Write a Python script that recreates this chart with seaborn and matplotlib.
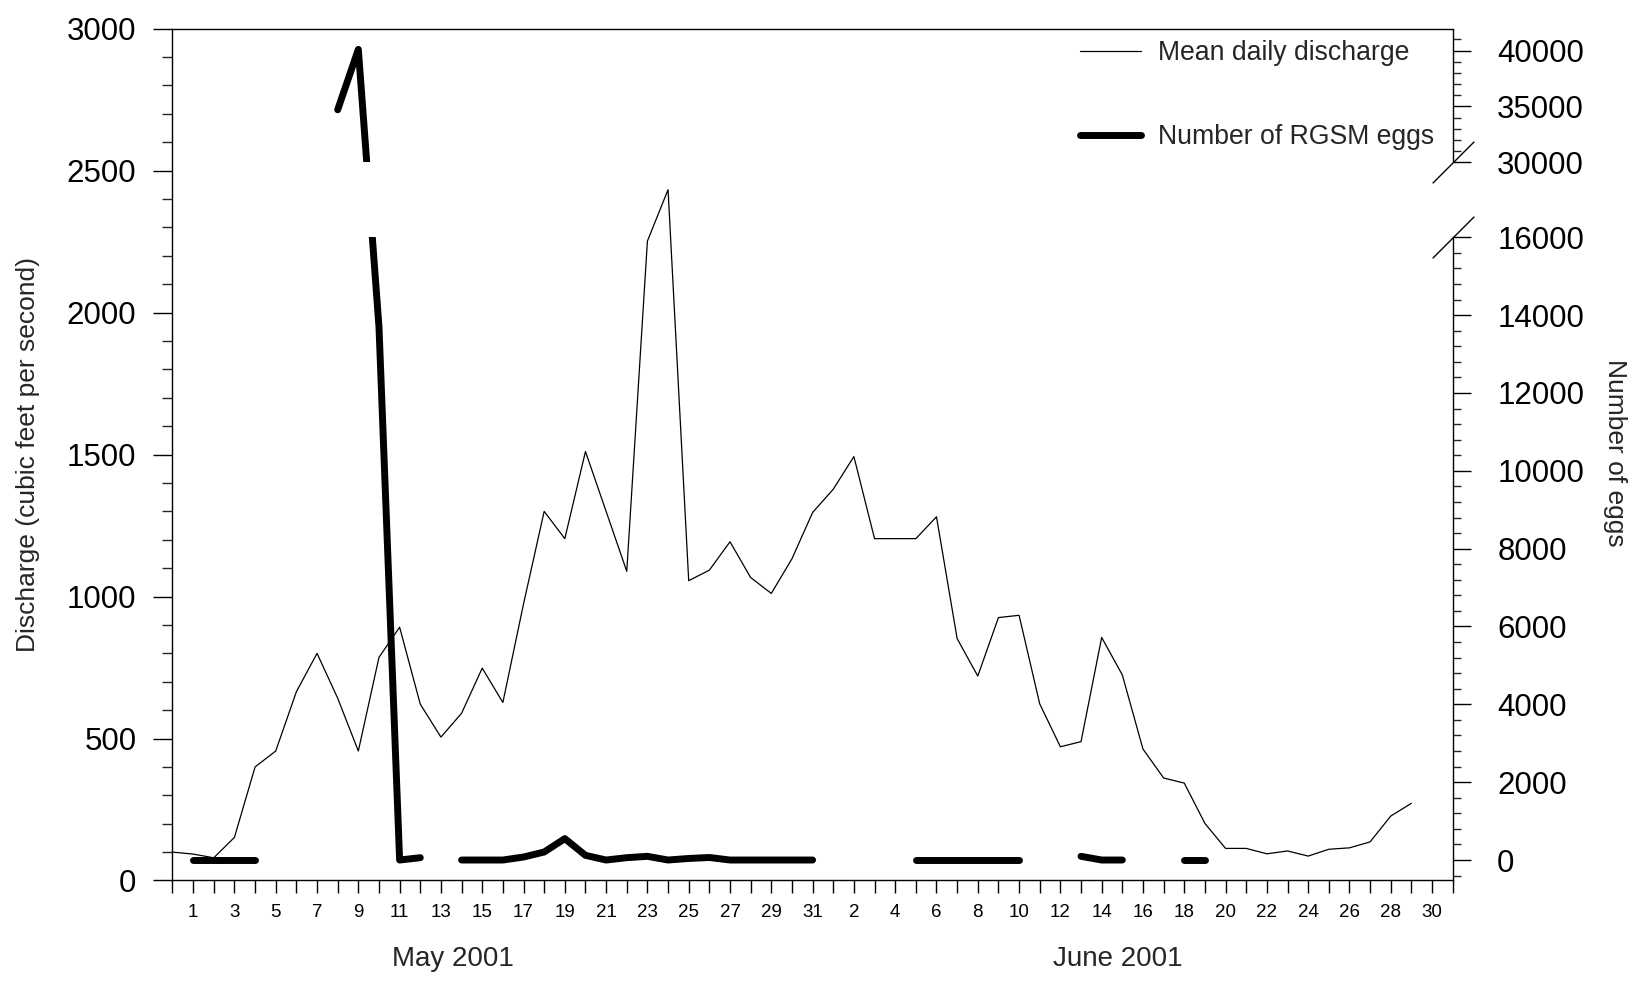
import numpy as np
import pandas as pd
import matplotlib
matplotlib.use("Agg")
import matplotlib.pyplot as plt
import seaborn as sns
from matplotlib.lines import Line2D
from matplotlib.path import Path
from matplotlib.ticker import FixedLocator, FixedFormatter

# ---------------- data ----------------
# day index: 0 = 30 April 2001, 1..31 = May 1..31, 32..61 = June 1..30
discharge_day = list(range(0, 61))
discharge_cfs = [100, 93, 80, 152, 400, 456, 665, 800, 642, 456,
                 786, 892, 621, 505, 589, 748, 627, 974, 1300, 1204,
                 1511, 1300, 1089, 2252, 2433, 1056, 1093, 1193, 1067, 1011,
                 1133, 1296, 1378, 1493, 1204, 1204, 1204, 1281, 852, 720,
                 926, 934, 622, 471, 489, 856, 724, 463, 361, 343,
                 201, 113, 113, 94, 104, 86, 110, 115, 136, 227,
                 272]

nan = np.nan
egg_day = list(range(1, 51))
egg_count = [0, 0, 0, 0, nan, nan, nan, 34700, 40100, 13700,
             0, 60, nan, 0, 0, 0, 77, 206, 550, 120,
             0, 60, 95, 0, 40, 65, 0, 0, 0, 0,
             0, nan, nan, nan, nan, 0, 0, 0, 0, 0,
             0, nan, nan, 95, 0, 0, nan, nan, 0, 0]

left_ticks = [0, 500, 1000, 1500, 2000, 2500, 3000]
right_ticks_low = [0, 2000, 4000, 6000, 8000, 10000, 12000, 14000, 16000]
right_ticks_up = [30000, 35000, 40000]
month_labels = ["May 2001", "June 2001"]
legend_labels = ["Mean daily discharge", "Number of RGSM eggs"]

# ---------------- broken egg scale ----------------
LOW_TOP, UP_BOT = 16000.0, 30000.0
G_GAP, G_UP = 0.1375, 0.2874


def fwd(e):
    e = np.asarray(e, dtype=float)
    return np.where(e <= LOW_TOP, e,
                    np.where(e <= UP_BOT, LOW_TOP + (e - LOW_TOP) * G_GAP,
                             LOW_TOP + (UP_BOT - LOW_TOP) * G_GAP + (e - UP_BOT) * G_UP))


def inv(u):
    u = np.asarray(u, dtype=float)
    u1 = LOW_TOP + (UP_BOT - LOW_TOP) * G_GAP
    return np.where(u <= LOW_TOP, u,
                    np.where(u <= u1, LOW_TOP + (u - LOW_TOP) / G_GAP,
                             UP_BOT + (u - u1) / G_UP))


# ---------------- style ----------------
sns.set_style("white")
plt.rcParams["font.family"] = ["Liberation Sans", "DejaVu Sans"]
plt.rcParams["axes.linewidth"] = 1.0

fig = plt.figure(figsize=(16.48, 9.81), dpi=100)
ax = fig.add_axes([0.10467, 0.10245, 0.77682, 0.86830])

dis_df = pd.DataFrame({"day": discharge_day, "cfs": discharge_cfs})
sns.lineplot(data=dis_df, x="day", y="cfs", estimator=None, ax=ax,
             color="black", linewidth=0.9)

ax.set_xlim(0, 62)
ax.set_ylim(0, 3000)
ax.set_xlabel("")
ax.set_ylabel("")
for s in ["left", "top", "bottom"]:
    ax.spines[s].set_visible(True)
    ax.spines[s].set_color("black")
ax.spines["right"].set_visible(False)

ax.set_yticks(left_ticks)
ax.set_yticklabels([str(v) for v in left_ticks])
ax.yaxis.set_minor_locator(FixedLocator([v for v in range(0, 3001, 100) if v % 500]))
ax.tick_params(axis="y", which="major", direction="out", length=14, width=1,
               labelsize=22.5, pad=12, colors="black", left=True)
ax.tick_params(axis="y", which="minor", direction="out", length=7, width=1, left=True)

days = list(range(0, 63))
xt_labels = []
for d in days:
    if d % 2 == 1:
        xt_labels.append(str(d if d <= 31 else d - 31))
    else:
        xt_labels.append("")
ax.set_xticks(days)
ax.set_xticklabels(xt_labels)
ax.tick_params(axis="x", which="major", direction="out", length=9, width=1,
               labelsize=13.5, pad=8, colors="black", bottom=True)

# ---------------- egg axis ----------------
ax2 = ax.twinx()
ax2.set_yscale("function", functions=(fwd, inv))

egg_df = pd.DataFrame({"day": egg_day, "eggs": egg_count})
egg_df["seg"] = egg_df["eggs"].isna().cumsum()
egg_df = egg_df.dropna()
sns.lineplot(data=egg_df, x="day", y="eggs", units="seg", estimator=None,
             ax=ax2, color="black", linewidth=5, legend=False)

YBOT, YTOP = -526, 41950
ax2.set_ylim(YBOT, YTOP)
ax2.set_xlim(0, 62)

# clip the egg line to the two visible bands of the broken axis
clip_verts = [(-0.1, YBOT - 2000), (1.1, YBOT - 2000), (1.1, LOW_TOP), (-0.1, LOW_TOP), (-0.1, YBOT - 2000),
              (-0.1, UP_BOT), (1.1, UP_BOT), (1.1, 60000), (-0.1, 60000), (-0.1, UP_BOT)]
clip_codes = [Path.MOVETO, Path.LINETO, Path.LINETO, Path.LINETO, Path.CLOSEPOLY] * 2
clip_path = Path(clip_verts, clip_codes)
for ln in ax2.get_lines():
    ln.set_solid_capstyle("round")
    ln.set_solid_joinstyle("round")
    ln.set_clip_path(clip_path, ax2.get_yaxis_transform())

for s in ["left", "top", "bottom"]:
    ax2.spines[s].set_visible(False)
ax2.spines["right"].set_visible(True)
ax2.spines["right"].set_color("black")
ax2.spines["right"].set_bounds(YBOT, LOW_TOP)

ytr = ax2.get_yaxis_transform()
ax2.add_line(Line2D([1, 1], [UP_BOT, YTOP], transform=ytr, color="black",
                    linewidth=1.0, clip_on=False, solid_capstyle="butt"))
ax2.add_line(Line2D([1, 1], [UP_BOT, LOW_TOP], transform=ytr, linestyle="none",
                    marker=[(-1, -1), (1, 1)], markersize=30, markeredgewidth=1.0,
                    color="black", clip_on=False))
ax2.set_ylim(YBOT, YTOP)

major_r = right_ticks_low + right_ticks_up
ax2.yaxis.set_major_locator(FixedLocator(major_r))
ax2.yaxis.set_major_formatter(FixedFormatter([str(v) for v in major_r]))
minor_r = [v for v in range(-400, 16000, 400) if v % 2000] + \
          [v for v in range(31000, 42001, 1000) if v % 5000]
ax2.yaxis.set_minor_locator(FixedLocator(minor_r))
ax2.tick_params(axis="y", which="major", direction="out", length=13, width=1,
                labelsize=22.5, pad=19, colors="black", right=True)
ax2.tick_params(axis="y", which="minor", direction="out", length=6, width=1, right=True)
ax2.set_ylabel("")
ax2.set_xlabel("")

# ---------------- text ----------------
xtr = ax.get_xaxis_transform()
ax.text(13.6, -0.0916, month_labels[0], transform=xtr, ha="center", va="center", fontsize=20)
ax.text(45.8, -0.0916, month_labels[1], transform=xtr, ha="center", va="center", fontsize=20)

fig.text(0.01669, 0.5366, "Discharge (cubic feet per second)", rotation=90,
         ha="center", va="center", fontsize=19)
fig.text(0.9800, 0.5387, "Number of eggs", rotation=270,
         ha="center", va="center", fontsize=19)

handles = [Line2D([], [], color="black", linewidth=0.9),
           Line2D([], [], color="black", linewidth=5, solid_capstyle="round")]
ax2.legend(handles, legend_labels, loc="upper left", bbox_to_anchor=(0.7089, 0.9869),
           frameon=False, fontsize=19.2, handlelength=2.28, handletextpad=0.63,
           labelspacing=2.18, borderpad=0, borderaxespad=0)

fig.savefig("out.png", dpi=100, facecolor="white")
